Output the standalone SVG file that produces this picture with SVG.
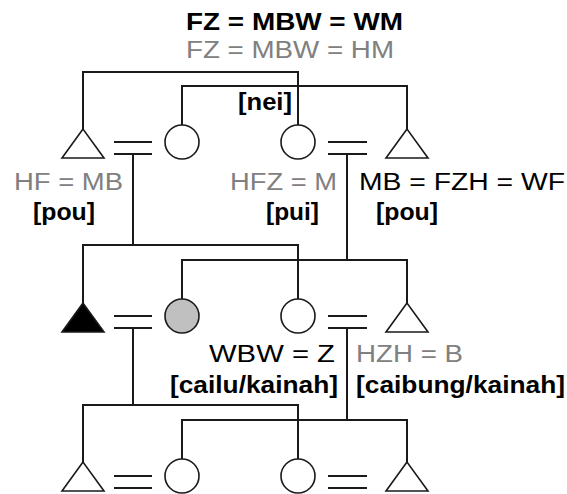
<svg xmlns="http://www.w3.org/2000/svg" width="567" height="494" viewBox="0 0 567 494">
<style>
.ln{fill:none;stroke:#1a1a1a;stroke-width:2}
.sh{fill:#fff;stroke:#1a1a1a;stroke-width:1.6}
.t{font-family:"Liberation Sans",Arial,sans-serif;font-size:23px}
.b{font-weight:bold}
.k{fill:#000}
.g{fill:#808080}
</style>
<rect width="567" height="494" fill="#fff"/>
<g id="connectors" class="ln">
<path d="M83,129 V72 H298 V125"/>
<path d="M182,125 V86 H407 V129"/>
<path d="M114,142 H152 M114,154 H152"/>
<path d="M328,142 H367 M328,154 H367"/>
<path d="M133,154 V245"/>
<path d="M83,303 V245 H298 V299"/>
<path d="M347,154 V260"/>
<path d="M182,299 V260 H407 V303"/>
<path d="M114,316 H152 M114,328 H152"/>
<path d="M328,316 H367 M328,328 H367"/>
<path d="M133,328 V405"/>
<path d="M83,462 V405 H298 V459"/>
<path d="M347,328 V420"/>
<path d="M182,459 V420 H407 V462"/>
<path d="M114,476 H152 M114,488 H152"/>
<path d="M328,476 H367 M328,488 H367"/>
</g>
<g id="r1m1"><polygon class="sh" points="83,129 62,158 104,158"/></g>
<g id="r1f1"><circle class="sh" cx="182" cy="142" r="17"/></g>
<g id="r1f2"><circle class="sh" cx="298" cy="142" r="17"/></g>
<g id="r1m2"><polygon class="sh" points="407,129 386,158 428,158"/></g>
<g id="ego"><polygon class="sh" style="fill:#000" points="83,303 62,332 104,332"/></g>
<g id="r2f1"><circle class="sh" style="fill:#c0c0c0" cx="182" cy="316" r="17"/></g>
<g id="r2f2"><circle class="sh" cx="298" cy="316" r="17"/></g>
<g id="r2m2"><polygon class="sh" points="407,303 386,332 428,332"/></g>
<g id="r3m1"><polygon class="sh" points="83,462 62,491 104,491"/></g>
<g id="r3f1"><circle class="sh" cx="182" cy="476" r="17"/></g>
<g id="r3f2"><circle class="sh" cx="298" cy="476" r="17"/></g>
<g id="r3m2"><polygon class="sh" points="407,462 386,491 428,491"/></g>
<g id="labels">
<text class="t b k" x="186" y="30" textLength="217" lengthAdjust="spacingAndGlyphs">FZ = MBW = WM</text>
<text class="t g" x="186" y="58" textLength="208" lengthAdjust="spacingAndGlyphs">FZ = MBW = HM</text>
<text class="t b k" x="238" y="110" textLength="54" lengthAdjust="spacingAndGlyphs">[nei]</text>
<text class="t g" x="14" y="190" textLength="109" lengthAdjust="spacingAndGlyphs">HF = MB</text>
<text class="t b k" x="33" y="220" textLength="62" lengthAdjust="spacingAndGlyphs">[pou]</text>
<text class="t g" x="230" y="190" textLength="107" lengthAdjust="spacingAndGlyphs">HFZ = M</text>
<text class="t b k" x="266" y="220" textLength="53" lengthAdjust="spacingAndGlyphs">[pui]</text>
<text class="t k" x="359" y="190" textLength="206" lengthAdjust="spacingAndGlyphs">MB = FZH = WF</text>
<text class="t b k" x="376" y="220" textLength="62" lengthAdjust="spacingAndGlyphs">[pou]</text>
<text class="t k" x="209" y="362" textLength="126" lengthAdjust="spacingAndGlyphs">WBW = Z</text>
<text class="t g" x="356" y="362" textLength="107" lengthAdjust="spacingAndGlyphs">HZH = B</text>
<text class="t b k" x="170" y="393" textLength="168" lengthAdjust="spacingAndGlyphs">[cailu/kainah]</text>
<text class="t b k" x="356" y="393" textLength="209" lengthAdjust="spacingAndGlyphs">[caibung/kainah]</text>
</g>
</svg>
